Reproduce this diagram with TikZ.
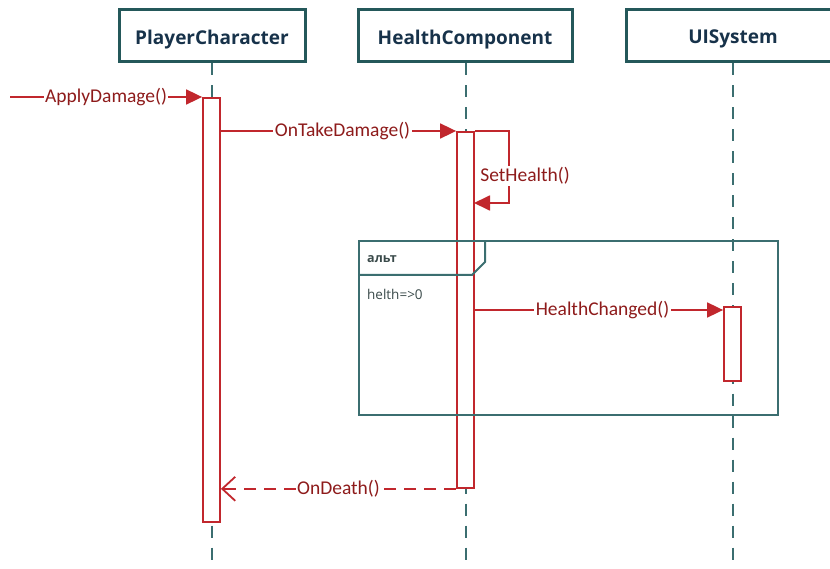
\documentclass[tikz,border=0pt]{standalone}
\usepackage{fontspec}
\setmainfont{Carlito}
\newfontfamily\headfont{Open Sans}
\usetikzlibrary{arrows.meta}

\definecolor{boxteal}{HTML}{24585A}
\definecolor{headtext}{HTML}{17324A}
\definecolor{lifeteal}{HTML}{3B6E70}
\definecolor{msgred}{HTML}{C1272D}
\definecolor{msgtext}{HTML}{8E1B1B}
\definecolor{guardtext}{HTML}{3A4A4A}

\tikzset{
  head/.style={draw=boxteal, line width=3pt, fill=white, minimum height=52pt,
    font=\headfont\bfseries\fontsize{19pt}{22pt}\selectfont, text=headtext, inner sep=0pt},
  lifeline/.style={draw=lifeteal, line width=2pt, dash pattern=on 12pt off 10pt},
  actbar/.style={draw=msgred, line width=1.8pt, fill=white, minimum width=17pt, inner sep=0pt, anchor=north},
  msg/.style={draw=msgred, line width=1.8pt, -{Triangle[length=16pt,width=15pt]}},
  retmsg/.style={draw=msgred, line width=1.8pt, dash pattern=on 12pt off 8pt,
    -{Straight Barb[length=13pt,width=24pt,line width=1.8pt]}},
  lbl/.style={fill=white, inner sep=1.5pt, text=msgtext, font=\fontsize{19.5pt}{22pt}\selectfont},
  frameline/.style={draw=lifeteal, line width=2pt},
}

\begin{document}
\begin{tikzpicture}[x=1pt,y=-1pt]
\useasboundingbox (0,0) rectangle (830,569);
\clip (0,0) rectangle (830,569);

% participants
\node[head, minimum width=186pt, text depth=0pt] (pc) at (212,36) {\raisebox{-2pt}{PlayerCharacter}};
\node[head, minimum width=214pt, text depth=0pt] (hc) at (465,36) {\raisebox{-2pt}{HealthComponent}};
\node[head, minimum width=214pt, text depth=0pt] (ui) at (733,36) {\raisebox{-2pt}{UISystem}};

% lifelines
\coordinate (pcend) at (212,569);
\coordinate (hcend) at (466,569);
\coordinate (uiend) at (733,569);
\draw[lifeline] (pc.south) -- (pcend);
\draw[lifeline] (hc.south -| hcend) -- (hcend);
\draw[lifeline] (ui.south) -- (uiend);

% activation bars
\node[actbar, minimum height=424pt] (pcbar) at (211.5,97) {};
\node[actbar, minimum height=356pt] (hcbar) at (465.5,131) {};
\node[actbar, minimum height=74pt] (uibar) at (732.5,306) {};

% alt combined fragment
\coordinate (fnw) at (359,241);
\coordinate (fse) at (778,415);
\draw[frameline] (fnw) rectangle (fse);
\draw[frameline] (359,275) -- (472,275) -- (485,262) -- (485,241);
\node[anchor=base west, inner sep=0pt, text=guardtext,
  font=\headfont\bfseries\fontsize{12.5pt}{14pt}\selectfont] (altlbl) at (367,263) {альт};
\node[anchor=base west, inner sep=0pt, text=guardtext,
  font=\headfont\fontsize{13.5pt}{15pt}\selectfont] (guard) at (367,300) {helth=>0};

% messages
\coordinate (start) at (10,97);
\draw[msg] (start) -- node[lbl] {ApplyDamage()} (pcbar.north west);
\draw[msg] (pcbar.east |- hcbar.north) -- node[lbl, xshift=4pt] {OnTakeDamage()} (hcbar.north west);
\coordinate (selfturn) at (509,131);
\coordinate (selfret) at (474,203);
\draw[msg] (hcbar.north east) -- (selfturn) -- (selfturn |- selfret) -- (selfret);
\node[lbl] (setlbl) at (525,176) {SetHealth()};
\coordinate (hcmsg) at (474,310);
\draw[msg] (hcmsg) -- node[lbl, xshift=4pt] {HealthChanged()} (hcmsg -| uibar.west);
\draw[retmsg] (hcbar.south west) -- node[lbl] {OnDeath()} (hcbar.south -| pcbar.east);
\end{tikzpicture}
\end{document}
